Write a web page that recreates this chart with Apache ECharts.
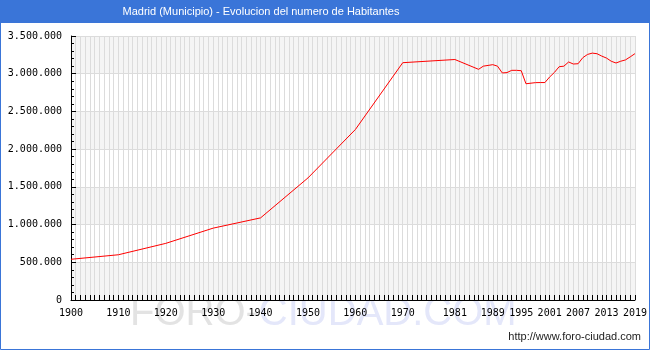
<!DOCTYPE html>
<html>
<head>
<meta charset="utf-8">
<script src="https://cdn.jsdelivr.net/npm/echarts@6/dist/echarts.min.js"></script>
<style>html,body{margin:0;padding:0;background:#fff}#c{width:650px;height:350px}</style>
</head>
<body>
<div id="c"></div>
<script>
const titleText = 'Madrid (Municipio) - Evolucion del numero de Habitantes';
const firstYear = 1900;
const lastYear = 2019;
const labelYears = [1900,1910,1920,1930,1940,1950,1960,1970,1981,1989,1995,2001,2007,2013,2019];
const dataYears = [1900,1910,1920,1930,1940,1950,1960,1970,1981,1986,1987,1988,1989,1990,1991,1992,1993,1994,1995,1996,1998,1999,2000,2001,2002,2003,2004,2005,2006,2007,2008,2009,2010,2011,2012,2013,2014,2015,2016,2017,2018,2019];
const population = [539835,599807,750896,952832,1088647,1618435,2259931,3146071,3188297,3058182,3100000,3110000,3120000,3100000,3010492,3015000,3045000,3045000,3040000,2866850,2881506,2882860,2882860,2957058,3016788,3092759,3099834,3155359,3128600,3132463,3213271,3255944,3273049,3265038,3233527,3207247,3165235,3141991,3165541,3182981,3223334,3266126];
const yTicksMax = 3500000;
const yInterval = 500000;

const categories = [];
for (let y = firstYear; y <= lastYear; y++) categories.push(String(y));
const seriesData = categories.map(c => {
  const i = dataYears.indexOf(+c);
  return i >= 0 ? population[i] : null;
});

function fmt(v){ return String(v).replace(/\B(?=(\d{3})+(?!\d))/g, '.'); }

const chart = echarts.init(document.getElementById('c'), null, {renderer:'canvas'});
chart.setOption({
  animation: false,
  backgroundColor: '#ffffff',
  grid: {left: 71, right: 14, top: 36, bottom: 50},
  graphic: [
    {type:'text', z:-5, left:130, top:294, style:{
      rich:{a:{fill:'#e3e3e3', font:'40px "Liberation Sans"'}, b:{fill:'#e4e7fa', font:'40px "Liberation Sans"'}},
      text:'{a|FORO-}{b|CIUDAD.COM}'}},
    {type:'rect', shape:{x:0, y:0, width:650, height:23}, style:{fill:'#3a75d8'}},
    {type:'rect', shape:{x:0.5, y:0.5, width:649, height:349}, style:{fill:null, stroke:'#3a75d8', lineWidth:1}},
    {type:'text', x:261, y:12, style:{text:titleText, fill:'#ffffff', font:'11px "Liberation Sans"', textAlign:'center', textVerticalAlign:'middle'}},
    {type:'text', x:641, y:337, style:{text:'http://www.foro-ciudad.com', fill:'#222', font:'11px "Liberation Sans"', textAlign:'right', textVerticalAlign:'middle'}}
  ],
  xAxis: {
    type: 'category',
    data: categories,
    boundaryGap: false,
    axisLine: {lineStyle: {color: '#000', width: 1}},
    axisTick: {inside: true, length: 5, interval: 0, lineStyle: {color: '#000'}},
    splitLine: {show: true, interval: 0, lineStyle: {color: '#dcdcdc', width: 1}},
    axisLabel: {
      interval: (idx, val) => labelYears.indexOf(+val) >= 0,
      color: '#000', fontFamily: '"DejaVu Sans Mono"', fontSize: 10, margin: 8
    }
  },
  yAxis: {
    type: 'value',
    min: 0, max: yTicksMax, interval: yInterval,
    axisLine: {show: true, lineStyle: {color: '#000', width: 1}},
    axisTick: {show: true, inside: true, length: 5, lineStyle: {color: '#000'}},
    minorTick: {show: true, splitNumber: 5, length: 3, lineStyle: {color: '#000'}},
    splitLine: {show: true, lineStyle: {color: '#dcdcdc', width: 1}},
    splitArea: {show: true, areaStyle: {color: ['#f5f5f5', '#ffffff']}},
    axisLabel: {formatter: v => fmt(v), color: '#000', fontFamily: '"DejaVu Sans Mono"', fontSize: 10, margin: 9}
  },
  series: [{
    type: 'line',
    data: seriesData,
    connectNulls: true,
    showSymbol: false,
    symbol: 'none',
    lineStyle: {color: '#ff0000', width: 1},
    z: 5
  }]
});
</script>
</body>
</html>
